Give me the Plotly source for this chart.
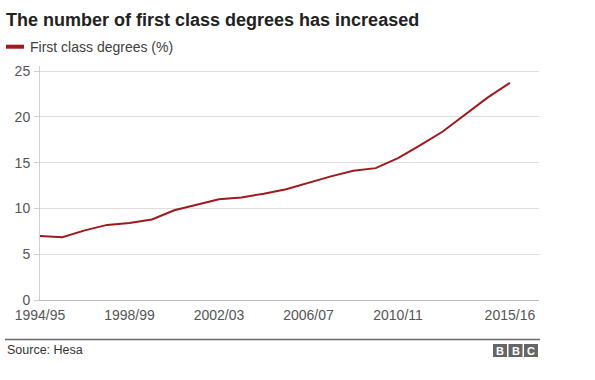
import plotly.graph_objects as go

years = ["1994/95", "1995/96", "1996/97", "1997/98", "1998/99", "1999/00",
         "2000/01", "2001/02", "2002/03", "2003/04", "2004/05", "2005/06",
         "2006/07", "2007/08", "2008/09", "2009/10", "2010/11", "2011/12",
         "2012/13", "2013/14", "2014/15", "2015/16"]
first_class = [7.0, 6.85, 7.6, 8.2, 8.4, 8.8, 9.8, 10.4, 11.0, 11.2, 11.6, 12.1,
               12.8, 13.5, 14.1, 14.4, 15.5, 16.9, 18.4, 20.2, 22.1, 23.7]
x_ticks = ["1994/95", "1998/99", "2002/03", "2006/07", "2010/11", "2015/16"]
y_ticks = [0, 5, 10, 15, 20, 25]

W, H = 595, 380
L, R, T, B = 40, 56, 66, 80
FONT = "Liberation Sans, Arial, sans-serif"
RED = "#9e1a1e"

fig = go.Figure()
fig.add_trace(go.Scatter(x=years, y=first_class, mode="lines",
                         line=dict(color=RED, width=2), showlegend=False,
                         hoverinfo="skip"))

def px_x(p):
    return (p - L) / (W - L - R)

def px_y(p):
    return (H - B - p) / (H - T - B)

fig.update_layout(
    width=W, height=H,
    margin=dict(l=L, r=R, t=T, b=B, autoexpand=False),
    paper_bgcolor="white", plot_bgcolor="white",
    font=dict(family=FONT, size=14, color="#555555"),
    xaxis=dict(type="category", categoryorder="array", categoryarray=years,
               range=[0, 22.3], tickvals=x_ticks, ticktext=x_ticks,
               showgrid=False, showline=True, linecolor="#bdbdbd", linewidth=1,
               ticks="outside", ticklen=2, tickcolor="rgba(0,0,0,0)",
               tickfont=dict(size=14, color="#555555"), zeroline=False),
    yaxis=dict(range=[0, 25.55], tickvals=y_ticks, showgrid=True,
               gridcolor="#dedede", gridwidth=1, showline=True,
               linecolor="#d0d0d0", linewidth=1, ticks="outside", ticklen=5,
               tickcolor="#d0d0d0", tickfont=dict(size=14, color="#555555"),
               zeroline=False, ticklabelstandoff=1),
    showlegend=False,
)

shapes = []
annotations = []

# Title
annotations.append(dict(text="<b>The number of first class degrees has increased</b>",
                        xref="paper", yref="paper", x=px_x(4), y=px_y(19.5),
                        xanchor="left", yanchor="middle", showarrow=False,
                        font=dict(family=FONT, size=18, color="#222222")))
# Legend
shapes.append(dict(type="line", xref="paper", yref="paper",
                   x0=px_x(6), x1=px_x(24), y0=px_y(46.7), y1=px_y(46.7),
                   line=dict(color=RED, width=4)))
annotations.append(dict(text="First class degrees (%)", xref="paper", yref="paper",
                        x=px_x(28), y=px_y(46.5), xanchor="left", yanchor="middle",
                        showarrow=False, font=dict(family=FONT, size=14, color="#404040")))
# Footer rule
shapes.append(dict(type="line", xref="paper", yref="paper",
                   x0=px_x(5), x1=px_x(540), y0=px_y(339.5), y1=px_y(339.5),
                   line=dict(color="#6b6b6b", width=1.5)))
annotations.append(dict(text="Source: Hesa", xref="paper", yref="paper",
                        x=px_x(5), y=px_y(350), xanchor="left", yanchor="middle",
                        showarrow=False, font=dict(family=FONT, size=12.5, color="#333333")))
# BBC blocks
for i, letter in enumerate(["B", "B", "C"]):
    x0 = 493 + i * 15.5
    shapes.append(dict(type="rect", xref="paper", yref="paper",
                       x0=px_x(x0), x1=px_x(x0 + 14), y0=px_y(344), y1=px_y(357),
                       fillcolor="#666666", line=dict(width=0)))
    annotations.append(dict(text="<b>" + letter + "</b>", xref="paper", yref="paper",
                            x=px_x(x0 + 7), y=px_y(350.5), xanchor="center",
                            yanchor="middle", showarrow=False,
                            font=dict(family=FONT, size=11, color="white")))

fig.update_layout(shapes=shapes, annotations=annotations)
fig.write_html("out.html", config={"displayModeBar": False},
               post_script="document.body.style.margin='0';")
